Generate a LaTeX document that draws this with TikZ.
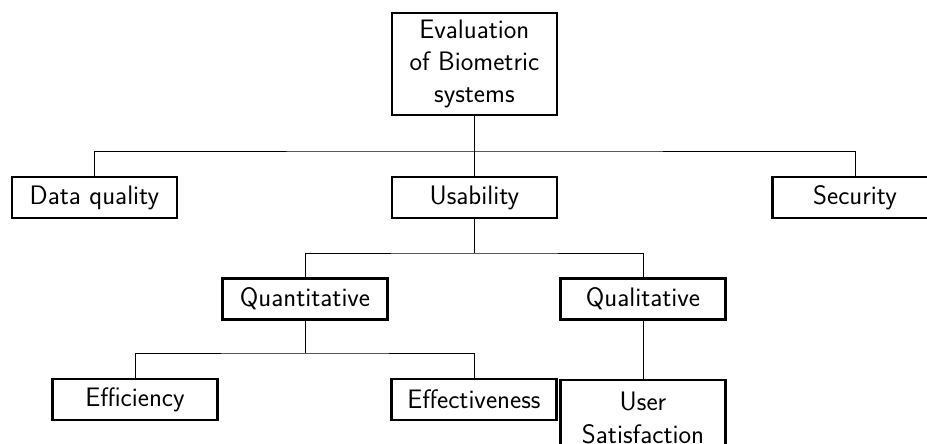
\documentclass[tikz,border=0pt]{standalone}
\usepackage{fontspec}
\usepackage{tikz}

\begin{document}
\begin{tikzpicture}[
    box/.style={draw=black, line width=1.5pt, minimum width=4.125cm, minimum height=1.025cm,
                align=center, inner sep=2pt, font=\sffamily\fontsize{19}{23}\selectfont},
    link/.style={draw=black, line width=0.7pt}
]
    % Frame
    \useasboundingbox (0,0) rectangle (23.175,-11.075);

    % Root
    \node[box, minimum height=2.55cm] (root) at (11.86,-1.6) {Evaluation\\of Biometric\\systems};

    % First level
    \node[box] (dq) at (2.36,-4.94) {Data quality};
    \node[box] (usab) at (11.86,-4.94) {Usability};
    \node[box] (sec) at (21.375,-4.94) {Security};
    \coordinate (bar1) at (11.86,-3.775);

    % Second level
    \node[box] (quant) at (7.625,-7.475) {Quantitative};
    \node[box] (qual) at (16.075,-7.475) {Qualitative};
    \coordinate (bar2) at (11.86,-6.325);

    % Third level
    \node[box] (eff) at (3.375,-9.99) {Efficiency};
    \node[box] (effec) at (11.85,-9.99) {Effectiveness};
    \node[box, anchor=north, minimum height=1.9cm] (usat) at (16.075,-9.475) {User\\Satisfaction};
    \coordinate (bar3) at (7.625,-8.825);

    % Connectors
    \draw[link] (root.south) -- (usab.north);
    \draw[link] (dq.north) |- (bar1) -| (sec.north);
    \draw[link] (usab.south) -- (bar2);
    \draw[link] (quant.north) |- (bar2) -| (qual.north);
    \draw[link] (quant.south) -- (bar3);
    \draw[link] (eff.north) |- (bar3) -| (effec.north);
    \draw[link] (qual.south) -- (usat.north);
\end{tikzpicture}
\end{document}
